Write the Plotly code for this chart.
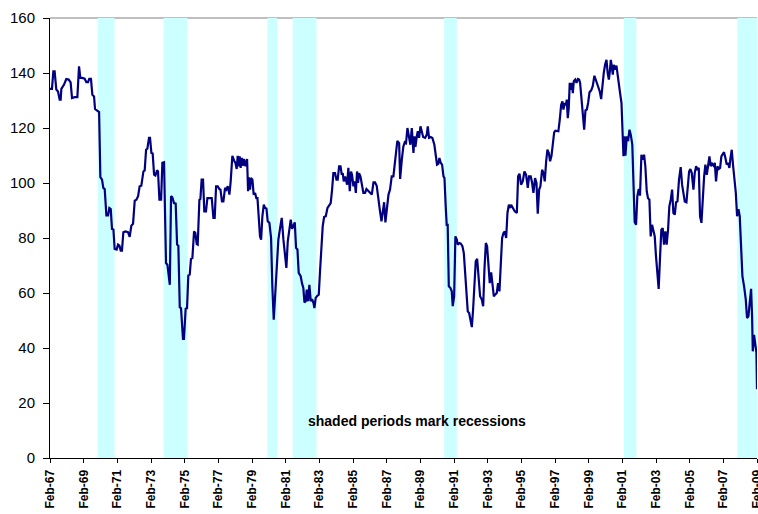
import plotly.graph_objects as go

# Consumer confidence index.
# x = months elapsed since Feb-1967 (Feb-67 = 0, Feb-09 = 504)
months = [
    0, 1.4, 2.4, 3.3, 4.5, 5.7, 6.9, 7.6, 8.1, 10, 11.6, 13.3, 14.7, 15.7, 17.6, 19.5,
    20.7, 21.6, 23, 24.7, 25.9, 27.1, 28, 29.2, 30.2, 31.4, 32.1, 33.8, 35, 35.9, 37.1,
    38, 39, 40.2, 41.4, 42.3, 43.3, 44.2, 45.2, 46.1, 47.5, 48.5, 49.5, 50.4, 51.3, 52.3,
    53.7, 55.6, 56.8, 58, 59.2, 60.4, 61.6, 62.8, 63.9, 65.1, 66.6, 67.5, 68.5, 69.4,
    70.6, 71.3, 72.3, 73.2, 74.2, 75.1, 76.3, 77, 78, 79.2, 80.1, 81.3,
    82.7, 83.7, 84.9, 85.4, 86.3, 87.2, 88.4, 89.6, 90.6, 91.5, 92.5, 93.4, 94.8, 95.5,
    96.7, 97.7, 98.6, 99.6, 100.5, 101.5, 102.7, 103.6, 104.6, 105.3, 106.5, 107.2,
    108.1, 109.1, 110, 111.2, 112.2, 114.3, 115.3, 116.5, 117.4, 118.4, 119.6, 120.7,
    121.5, 122.6, 123.6, 124.8, 125.7, 126.7, 127.9, 128.8, 130, 131.2, 132.2, 133.1,
    133.8, 134.5, 135.2, 135.9, 136.7, 137.4, 138.3, 139.3, 140.5, 141.2, 141.9, 142.6,
    143.3, 144.3, 145.2, 146.2, 147.1, 147.9, 148.8, 149.7, 150.5, 151.4, 152.4, 153.3,
    154.3, 155.2, 156.4, 157.6, 158.5, 159.5, 160.4, 161.6, 162.8, 164.2,
    165.2, 166.4, 167.6, 168.5, 169.5, 170.7, 171.6, 172.6, 173.5, 174.5, 175.4, 176.4,
    177.3, 178.7, 179.7, 180.6, 181.4, 182.3, 183, 184, 184.9, 185.9, 186.8, 187.8,
    188.5, 189.4, 190.6, 191.6, 192.5, 193.5, 194.4, 195.4, 196.6, 197.8, 199.2, 200.1,
    201.1, 202, 203.2, 204.2, 205.1, 206.1, 207.1, 208, 208.7, 209.4, 210.4, 211.1,
    211.8, 212.7, 213.7, 214.6, 215.3, 216.3, 217.2, 218, 218.9, 219.6, 220.3, 221.3,
    222.2, 223.4, 224.6, 225.6, 226.8, 228.2, 229.4, 230.6, 231.7, 232.9, 233.9, 235.1,
    236.3, 237.2, 238.2, 239.1, 240.1, 241.3, 242.4, 243.6, 244.8, 246,
    246.7, 247.6, 248.9, 249.6, 250.8, 251.9, 252.9, 253.8, 254.8, 256, 256.9, 257.9,
    259.1, 259.8, 260.5, 261.5, 262.2, 263.1, 264.1, 265, 266, 267.4, 268.6, 269.3,
    270.2, 271.4, 272.6, 274, 275, 275.9, 276.8, 277.6, 278.6, 279.5, 280.5, 281.2,
    282.1, 282.8, 283.5, 284.3, 285.5, 286.4, 287.1, 288.1, 289, 290, 290.7, 291.9,
    292.8, 294, 295, 295.9, 296.9, 297.8, 298.8, 299.7, 300.7, 301.6, 302.6, 303.5,
    304.5, 305.4, 306.6, 307.8, 308.8, 309.7, 310.7, 311.6, 312.6, 313.5, 314.5, 315.4,
    316.4, 317.3, 318.5, 319.4, 320.4, 321.4, 322.3, 323.3, 324.2, 325.2, 326.1, 327.1,
    328, 328.7, 329.9, 331.3, 332.8, 333.7, 334.7, 335.8, 337, 338.2, 339.4, 340.6,
    341.5, 342.7, 343.7, 344.6, 345.8, 346.8, 347.7, 348.7, 349.6, 350.8, 351.8, 352.7,
    353.7, 354.6, 355.6, 356.5, 357.5, 358.4, 359.4, 360.3, 361.5, 362.4, 363.4, 364.4,
    365.3, 366, 367, 367.7, 368.4, 369.1, 369.8, 370.5, 371.3, 372, 372.7, 373.4, 374.4,
    375.3, 376.3, 377.2, 377.9, 378.9, 379.8, 380.8, 381.7, 382.7, 383.6, 384.6, 385.8,
    386.9, 388.1, 389.1, 390, 391, 391.9, 392.9, 393.8, 394.8, 395.7, 396.7, 397.6,
    398.4, 399.1, 399.8, 400.5, 401.2, 401.9, 402.9, 403.8, 404.5, 405.5, 406.4, 407.4,
    408.1, 408.8, 409.5, 410.2, 411.2, 412.1, 413.1, 414, 415.1, 415.9, 416.8, 417.8,
    418.7, 419.7, 420.6, 421.6, 422.5, 423.5, 424.4, 425.4, 426.3, 427.3, 428.2, 429.2,
    430.1, 431.1, 432, 433, 433.9, 434.9, 435.8, 436.8, 437.7, 438.7, 439.6, 440.6,
    441.5, 442.5, 443.5, 444.4, 445.4, 446.3, 447.3, 448.4, 449.6, 450.6, 451.5, 452.5,
    453.7, 454.6, 455.6, 456.5, 457.5, 458.7, 459.6, 460.6, 461.5, 462.5, 463.4, 464.4,
    465.3, 466.3, 467.2, 468.2, 469.1, 470.1, 471, 472, 473, 473.9, 474.8, 475.8, 476.7,
    477.7, 478.6, 479.6, 480.5, 481.5, 482.4, 483.4, 484.3, 485.1, 486, 487, 487.9,
    488.9, 489.8, 490.8, 491.7, 492.7, 493.6, 494.8, 496, 496.9, 497.9, 498.8, 499.8,
    500.5, 501, 501.9, 502.9, 503.6, 504,
]

confidence = [
    134.2, 134.2, 140.6, 140.6, 134, 133.3, 130.3, 130.3, 134.2, 135.8, 137.8, 137.6,
    136.6, 130.9, 131.2, 131.2, 142.4, 138.2, 138.2, 137.9, 136.7, 136.7, 137.9, 137.9,
    132.1, 131.5, 126.9, 126.3, 125.8, 102.1, 101.2, 98.2, 97.8, 88.2, 88.2, 90.9, 90.5,
    83.3, 83.1, 76, 75.8, 77.6, 77.2, 75.4, 75.4, 82.1, 82.4, 82.1, 80.4, 84.5, 85.2,
    93.6, 93.9, 95.2, 98.8, 99, 104.2, 104.6, 112.1, 112.5, 116.4, 116.4, 110.9, 110.7,
    103, 102.7, 104.6, 104.2, 93.9, 93.9, 107.3, 107.5,
    70.9, 70.3, 63, 63, 95.2, 94.8, 92.7, 92.5, 77.6, 77.2, 54.8, 54.5, 43.3, 43.3,
    54.3, 54.5, 66.4, 66.7, 72.4, 72.7, 82.4, 81.8, 77.8, 77.6, 93.9, 94.2,
    101.2, 101.2, 89.7, 89.7, 94.5, 94.5, 94.5, 87.3, 87.3, 98.8, 98.8, 97.8,
    97.6, 93.3, 93.3, 98.2, 97.6, 98.8, 95.8, 100.6, 109.9, 108.2, 107.3, 105.1,
    109.9, 106, 109.7, 105.5, 109.1, 106.3, 108.7, 106.1, 108.7, 97, 102.1, 97.6,
    101.8, 101.2, 95.8, 96.4, 94.5, 94.5, 87.3, 80.6, 79.4, 87.9, 92.1, 90.9,
    90.7, 86.1, 85.5, 80, 62.4, 50.3, 58.2, 68.5, 79.4, 84.2,
    87.3, 79.4, 74.5, 69.1, 78.8, 83.6, 86.7, 83.3, 84.2, 85.7, 76.4, 75.8,
    67.3, 66.1, 63.4, 61.8, 56.6, 57, 61.2, 57, 63, 57, 57.8, 56.4,
    54.5, 58.2, 59, 59.4, 67.9, 79.4, 84.2, 87.6, 87.9, 90.9, 91.8, 92.7,
    97.6, 103.6, 103.6, 101.2, 101.2, 106.1, 106.1, 103, 103.6, 100.6, 102.4, 100,
    99.4, 105.5, 97, 104.2, 103, 98.8, 100.6, 96.4, 104.2, 100, 103.6, 102.4,
    99.4, 96.4, 96.4, 97.8, 97.2, 96.4, 95.8, 100.2, 100.2, 99, 94.2, 90.3,
    86.1, 89.1, 93, 85.7, 90.9, 95.8, 97.6, 102.4, 102.4, 108.5,
    110.9, 115.3, 114.5, 101.5, 108.5, 113.3, 114.8, 114.5, 120, 116.4, 113.9, 120,
    110.9, 117, 113.1, 117, 118.8, 116.4, 120.6, 118.8, 116.7, 116.4, 117.6, 120.6,
    116.4, 116.7, 116.4, 113.9, 110.9, 106.7, 107, 109.1, 107.3, 106.7, 102.4, 101.8,
    91.5, 84.8, 84.8, 62.4, 61.8, 60.6, 55.2, 58.8, 80.6, 79.4, 77.6, 78.2,
    78, 77, 74.5, 67.3, 58.8, 53.3, 52.7, 50.3, 47.6, 53.9, 65.5, 71.5,
    72.4, 66.1, 58.8, 57.6, 55.2, 68.5, 78.2, 77, 70.9, 63.6, 67.5, 63,
    58.8, 59.4, 60, 63.6, 60.6, 70.9, 80, 81.8, 82.4, 80, 89.1, 92.1,
    90.9, 92.1, 90.9, 89.7, 89.1, 102.4, 103.4, 99.4, 100.6, 104.2, 103, 98.2,
    102.4, 102.4, 100, 96.4, 101.8, 100, 88.8, 97.6, 98.8, 104.8, 103.6, 100.6,
    107.9, 112.1, 110.9, 107.9, 109.9, 113.3, 118.4, 119, 119, 118.8, 123, 128.5,
    129.7, 126.7, 129.1, 128.2, 130.3, 123.6, 127.3, 136.4, 133.9, 136.4, 132.7, 137, 137.6,
    136.4, 137.8, 137.6, 136.4, 130.3, 124.2, 119.4, 126.4, 126.7, 129.1, 133, 133.7,
    135.2, 139, 137.6, 136.4, 135.2, 133.3, 130.5, 135.8, 140.2, 143, 144.8, 139.8,
    137.6, 140.6, 144.8, 142.4, 139.4, 143, 141.2, 142.7, 139.4, 135.2, 132.7, 129.1,
    119.4, 109.7, 117, 109.9, 117, 115.2, 119.4, 117.6, 114, 100.6, 85.8, 84.8,
    95.2, 97.8, 95.4, 110.3, 108.5, 110.3, 106.1, 97, 94.5, 93.9, 80.6, 84.8,
    83, 80.6, 73.3, 66.1, 61.5, 73.3, 83, 83.6, 77.6, 82.4, 77.6, 83,
    91.5, 93.9, 97.6, 89.1, 88.5, 93, 93.3, 101.2, 105.8, 99.4, 96.4, 93.3,
    93, 99.4, 104.2, 105.1, 103.6, 97.6, 103.6, 106.1, 104.8, 105.5, 87.9, 85.5,
    95.2, 102.4, 106.7, 103, 106.1, 109.7, 106.1, 107, 106.3, 107.3, 100.6, 106.1, 105.1,
    105.5, 109.7, 110.7, 111.2, 109.1, 106.7, 107.3, 105.5, 109.1, 112.1, 106.1, 101.2,
    96.4, 87.9, 90.5, 87.9, 75.8, 66.1, 62.4, 57.6, 50.9, 51.5, 56.4, 61.5,
    51.5, 38.8, 44.8, 40.6, 38.2, 25,
]

tick_months = list(range(0, 505, 24))
tick_labels = ["Feb-67", "Feb-69", "Feb-71", "Feb-73", "Feb-75", "Feb-77", "Feb-79",
               "Feb-81", "Feb-83", "Feb-85", "Feb-87", "Feb-89", "Feb-91", "Feb-93",
               "Feb-95", "Feb-97", "Feb-99", "Feb-01", "Feb-03", "Feb-05", "Feb-07",
               "Feb-09"]

# NBER recessions (first month, last month)
recession_start = ["1969-12", "1973-11", "1980-01", "1981-07", "1990-07", "2001-03", "2007-12"]
recession_end = ["1970-11", "1975-03", "1980-07", "1982-11", "1991-03", "2001-11", "2009-02"]


def month_index(s):
    y, m = s.split("-")
    return (int(y) - 1967) * 12 + (int(m) - 2)


shapes = [dict(type="line", xref="paper", yref="paper", x0=0, x1=1, y0=1, y1=1,
               line=dict(color="#808080", width=1), layer="below")]
for s, e in zip(recession_start, recession_end):
    shapes.append(dict(type="rect", xref="x", yref="y",
                       x0=month_index(s), x1=min(month_index(e) + 1, 504),
                       y0=0, y1=161, fillcolor="#CCFFFF", line=dict(width=0),
                       layer="below"))

fig = go.Figure()
fig.add_trace(go.Scatter(x=months, y=confidence, mode="lines",
                         line=dict(color="#000080", width=2.2),
                         showlegend=False, hoverinfo="skip"))

fig.update_layout(
    width=758, height=514,
    margin=dict(l=50, r=1, t=18, b=56),
    paper_bgcolor="white", plot_bgcolor="white",
    shapes=shapes,
    xaxis=dict(range=[0, 504], tickmode="array", tickvals=tick_months,
               ticktext=tick_labels, tickangle=-90,
               tickfont=dict(family="Liberation Sans, Arial", size=12, color="black",
                             weight="bold"),
               showline=True, linecolor="black", linewidth=1,
               ticks="outside", ticklen=4, tickcolor="black",
               showgrid=False, zeroline=False, automargin=False,
               ticklabelstandoff=2, ticklabeloverflow="allow"),
    yaxis=dict(range=[0, 160], dtick=20, tick0=0,
               tickfont=dict(family="Liberation Sans, Arial", size=15, color="black"),
               showline=True, linecolor="black", linewidth=1,
               ticks="outside", ticklen=6, tickcolor="black",
               showgrid=False, zeroline=False, automargin=False,
               ticklabelstandoff=5),
    annotations=[dict(text="shaded periods mark recessions", x=261.7, y=13.6,
                      xref="x", yref="y", showarrow=False,
                      xanchor="center", yanchor="middle",
                      font=dict(family="Liberation Sans, Arial", size=14,
                                color="black", weight="bold"))],
)

fig.write_html(
    "out.html",
    config={"displayModeBar": False},
    post_script="document.body.style.margin='0';document.body.style.padding='0';"
                "document.documentElement.style.overflow='hidden';",
)
